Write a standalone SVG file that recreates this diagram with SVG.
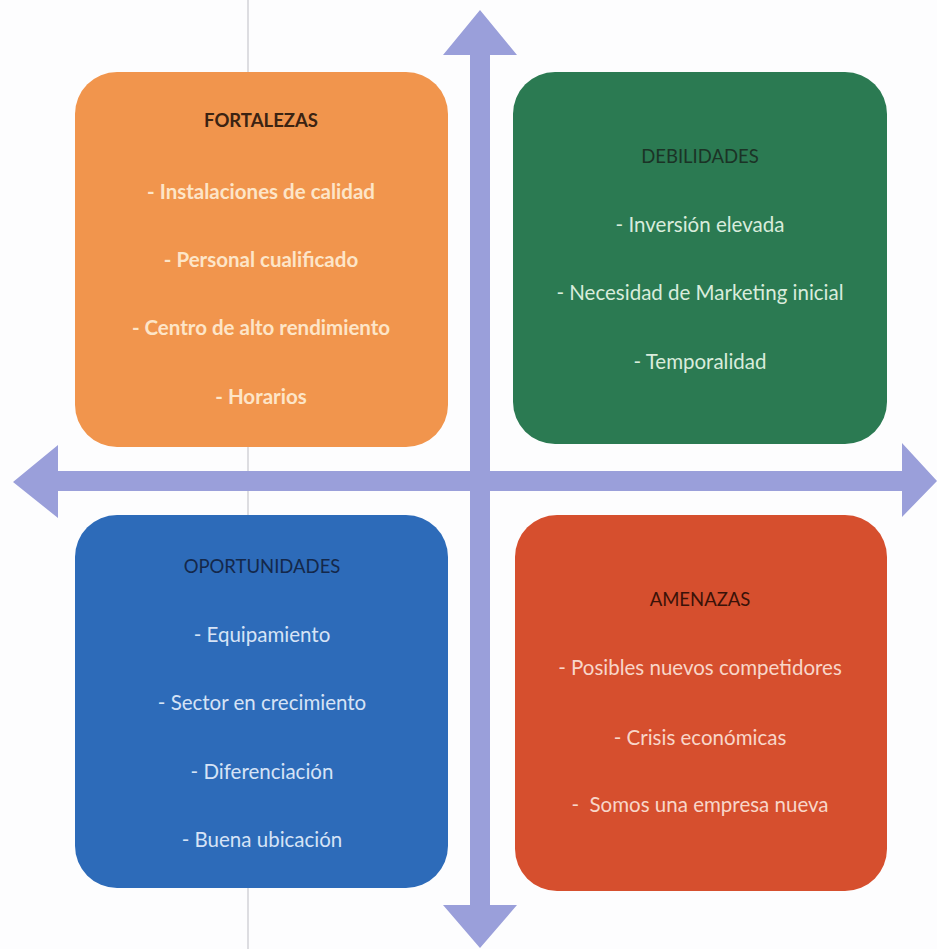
<svg xmlns="http://www.w3.org/2000/svg" width="937" height="949" viewBox="0 0 937 949">
  <style>
    .box { stroke: none; }
    .t { font-family: Lato, "Liberation Sans", sans-serif; text-anchor: middle; white-space: pre; }
    .title { font-size: 18.5px; }
    .item { font-size: 20.5px; }
    .arrow { fill: #9a9fda; }
  </style>
  <rect x="0" y="0" width="937" height="949" fill="#fdfdfe"/>
  <line x1="248" y1="0" x2="248" y2="949" stroke="#c9c9cf" stroke-width="2" opacity="0.6"/>

  <g id="connectors">
    <polygon class="arrow" points="480,10 517,55 490,55 490,471 902,471 902,443 937,481 902,517 902,491 490,491 490,905 517,905 480,948 443,905 470,905 470,491 58,491 58,518 13,482 58,445 58,471 470,471 470,55 443,55"/>
  </g>

  <g id="fortalezas">
    <rect class="box" x="75" y="72" width="373" height="375" rx="42" fill="#f1954d"/>
    <text class="t title" x="261" y="127" font-weight="bold" fill="#3b2312">FORTALEZAS</text>
    <text class="t item" x="261" y="199" font-weight="bold" fill="#fde5c8">- Instalaciones de calidad</text>
    <text class="t item" x="261" y="267" font-weight="bold" fill="#fde5c8">- Personal cualificado</text>
    <text class="t item" x="261" y="335" font-weight="bold" fill="#fde5c8">- Centro de alto rendimiento</text>
    <text class="t item" x="261" y="404" font-weight="bold" fill="#fde5c8">- Horarios</text>
  </g>

  <g id="debilidades">
    <rect class="box" x="513" y="72" width="374" height="372" rx="42" fill="#2b7a52"/>
    <text class="t title" x="700" y="163" fill="#1b3326">DEBILIDADES</text>
    <text class="t item" x="700" y="232" fill="#d9ecdc">- Inversión elevada</text>
    <text class="t item" x="700" y="300" fill="#d9ecdc">- Necesidad de Marketing inicial</text>
    <text class="t item" x="700" y="369" fill="#d9ecdc">- Temporalidad</text>
  </g>

  <g id="oportunidades">
    <rect class="box" x="75" y="515" width="373" height="373" rx="42" fill="#2d6bb9"/>
    <text class="t title" x="262" y="573" fill="#14284a">OPORTUNIDADES</text>
    <text class="t item" x="262" y="642" fill="#d6e3f6">- Equipamiento</text>
    <text class="t item" x="262" y="710" fill="#d6e3f6">- Sector en crecimiento</text>
    <text class="t item" x="262" y="779" fill="#d6e3f6">- Diferenciación</text>
    <text class="t item" x="262" y="847" fill="#d6e3f6">- Buena ubicación</text>
  </g>

  <g id="amenazas">
    <rect class="box" x="515" y="515" width="372" height="376" rx="42" fill="#d64f2e"/>
    <text class="t title" x="700" y="606" fill="#3a1208">AMENAZAS</text>
    <text class="t item" x="700" y="675" fill="#f8d6c9">- Posibles nuevos competidores</text>
    <text class="t item" x="700" y="745" fill="#f8d6c9">- Crisis económicas</text>
    <text class="t item" x="700" y="812" fill="#f8d6c9">-  Somos una empresa nueva</text>
  </g>
</svg>
